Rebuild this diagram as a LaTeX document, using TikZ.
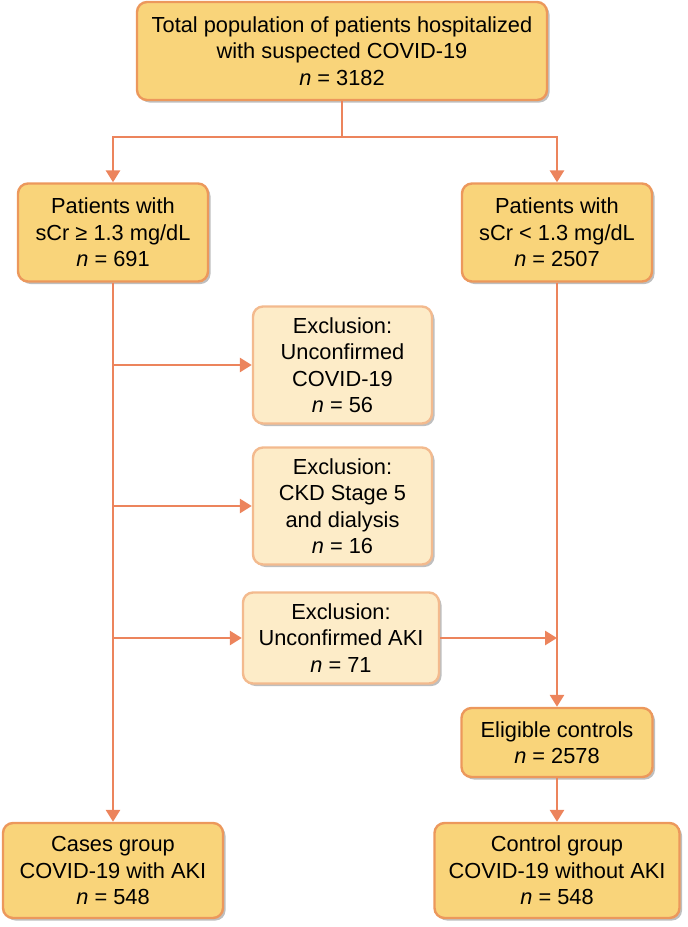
\documentclass[tikz,border=0pt]{standalone}
\usepackage{fontspec}
\setmainfont{Liberation Sans}
\usetikzlibrary{arrows.meta,shadows}

\definecolor{boxfill}{RGB}{249,212,122}
\definecolor{boxline}{RGB}{236,152,92}
\definecolor{exclfill}{RGB}{253,236,200}
\definecolor{exclline}{RGB}{243,186,142}
\definecolor{flowline}{RGB}{236,132,92}

\tikzset{
  mainbox/.style={draw=boxline, fill=boxfill, line width=2.4pt, rounded corners=10pt,
    align=center, inner sep=0pt, font=\fontsize{21.8}{26.5}\selectfont,
    drop shadow={shadow xshift=2.5pt, shadow yshift=-2.5pt, opacity=0.25, fill=black}},
  exclbox/.style={mainbox, draw=exclline, fill=exclfill},
  flow/.style={draw=flowline, line width=2.8pt, -{Triangle[length=12pt,width=14pt]}},
  plain/.style={draw=flowline, line width=2.8pt}
}

\begin{document}
\begin{tikzpicture}[x=1pt, y=-1pt]
   \useasboundingbox (0,0) rectangle (688,927);

   % Top of the flow
   \node[mainbox, minimum width=410pt, minimum height=98pt] (total) at (342,51)
      {Total population of patients hospitalized\\with suspected COVID-19\\\textit{n} = 3182};

   % Split on serum creatinine
   \node[mainbox, minimum width=190pt, minimum height=98pt] (high) at (113,232.5)
      {Patients with\\sCr ≥ 1.3 mg/dL\\\textit{n} = 691};
   \node[mainbox, minimum width=190pt, minimum height=98pt] (low) at (557,232.5)
      {Patients with\\sCr < 1.3 mg/dL\\\textit{n} = 2507};

   \coordinate (split) at (342,137);
   \draw[plain] (total.south) -- (split);
   \draw[flow] (split) -| (high.north);
   \draw[flow] (split) -| (low.north);

   % Exclusions
   \node[exclbox, minimum width=179pt, minimum height=117pt] (ex1) at (342.5,365)
      {Exclusion:\\Unconfirmed\\COVID-19\\\textit{n} = 56};
   \node[exclbox, minimum width=179pt, minimum height=117pt] (ex2) at (342.5,506)
      {Exclusion:\\CKD Stage 5\\and dialysis\\\textit{n} = 16};
   \node[exclbox, minimum width=196pt, minimum height=91pt] (aki) at (341,638)
      {Exclusion:\\Unconfirmed AKI\\\textit{n} = 71};

   % Final groups
   \node[mainbox, minimum width=191pt, minimum height=69pt] (elig) at (557,742.5)
      {Eligible controls\\\textit{n} = 2578};
   \node[mainbox, minimum width=220pt, minimum height=95pt] (cases) at (113,870.5)
      {Cases group\\COVID-19 with AKI\\\textit{n} = 548};
   \node[mainbox, minimum width=245pt, minimum height=95pt] (control) at (557,870.5)
      {Control group\\COVID-19 without AKI\\\textit{n} = 548};

   % Left column
   \draw[flow] (high.south) -- (cases.north);
   \foreach \ex in {ex1,ex2,aki} {
      \coordinate (b\ex) at (high.south |- \ex.west);
      \draw[flow] (b\ex) -- (\ex.west);
   }

   % Right column
   \coordinate (join) at (low.south |- aki.east);
   \draw[flow] (low.south) -- (elig.north);
   \draw[flow] (aki.east) -- (join);
   \draw[flow] (elig.south) -- (control.north);
\end{tikzpicture}
\end{document}
